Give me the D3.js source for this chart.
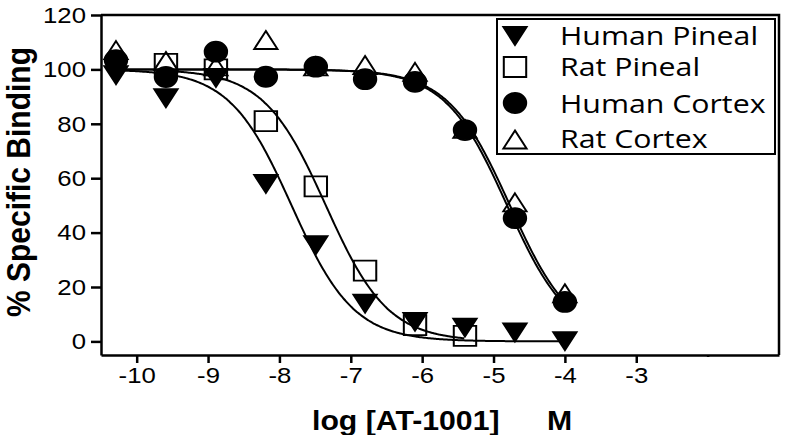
<!DOCTYPE html>
<html>
<head>
<meta charset="utf-8">
<script src="https://cdn.jsdelivr.net/npm/d3@7"></script>
<style>
    body { margin: 0; background: #fff; }
</style>
</head>
<body>
<svg id="chart" width="809" height="435"></svg>
<script>
// log molar concentration of AT-1001 (5-fold dilutions)
const logConc = [-10.29, -9.59, -8.89, -8.19, -7.49, -6.80, -6.10, -5.40, -4.70, -4.00];

const seriesNames = ["Human Pineal", "Rat Pineal", "Human Cortex", "Rat Cortex"];
const humanPineal = [99, 90.5, 98, 59, 36.5, 15, 8.3, 6.2, 4.4, 1.2];
const ratPineal = [null, 102, 100, 81, 57, 26, 6, 2, null, null];
const humanCortex = [103.4, 97.2, 106.5, 97.3, 101, 96.4, 95.4, 77.7, 45.3, 14.5];
const ratCortex = [106, 102, 100, 109.7, 100, 100.5, 98, 77, 50, 16.6];

// one-site fit parameters
const fitTop = [100, 100, 100, 100];
const fitBottom = [0, 0, 0, 0];
const fitLogIC50 = [-7.83, -7.35, -4.81, -4.77];

const xTicks = [-10, -9, -8, -7, -6, -5, -4, -3, -2];
const xTickLabels = ["-10", "-9", "-8", "-7", "-6", "-5", "-4", "-3", ""];
const yTicks = [0, 20, 40, 60, 80, 100, 120];

const chart = {
    svg: d3.select("#chart"),

    // the original figure is stretched sideways
    stretch: 1.12,

    box: {
        left: 101,
        right: 779,
        top: 15,
        bottom: 355
    },

    scales: {
        x: null,
        y: null
    },

    setScales() {
        this.scales.x = d3.scaleLinear([-10.5, -1], [this.box.left, this.box.right]);
        this.scales.y = d3.scaleLinear([-5, 120], [this.box.bottom, this.box.top]);
    },

    axes() {
        const s = this.stretch;

        const yAxis = d3.axisLeft(this.scales.y)
            .tickValues(yTicks)
            .tickSize(10)
            .tickSizeOuter(0)
            .tickPadding(5);

        const gy = this.svg.append("g")
            .attr("transform", `translate(${this.box.left}, 0)`)
            .call(yAxis);

        gy.selectAll("text")
            .attr("transform", `scale(${s}, 1)`)
            .attr("x", -15 / s)
            .style("font", "23px 'Liberation Sans', Arial, sans-serif")
            .attr("fill", "#000");

        const xAxis = d3.axisBottom(this.scales.x)
            .tickValues(xTicks)
            .tickFormat((d, i) => xTickLabels[i])
            .tickSize(8)
            .tickSizeOuter(0)
            .tickPadding(4);

        const gx = this.svg.append("g")
            .attr("transform", `translate(0, ${this.box.bottom})`)
            .call(xAxis);

        gx.selectAll("text")
            .attr("transform", `scale(${s}, 1)`)
            .style("font", "23px 'Liberation Sans', Arial, sans-serif")
            .attr("fill", "#000");

        // the -2 tick is only a stub
        gx.selectAll(".tick line").filter(d => d === -2).attr("y2", 2);

        [gx, gy].forEach(g => {
            g.selectAll("line, path")
                .attr("stroke", "#000")
                .attr("stroke-width", 2.5);
        });

        // frame top and right
        this.svg.append("path")
            .attr("d", `M${this.box.left},${this.box.top}H${this.box.right}V${this.box.bottom}`)
            .attr("fill", "none")
            .attr("stroke", "#000")
            .attr("stroke-width", 2.5);
    },

    titles() {
        const s = this.stretch;

        const xt = this.svg.append("text")
            .attr("transform", `translate(312, 430) scale(${s}, 1)`)
            .style("font", "bold 27px 'Liberation Sans', Arial, sans-serif")
            .attr("fill", "#000");
        xt.append("tspan").text("log [AT-1001]");
        xt.append("tspan").attr("x", (547 - 312) / s).text("M");

        this.svg.append("text")
            .attr("transform", `translate(30, 182) scale(${s}, 1) rotate(-90)`)
            .attr("text-anchor", "middle")
            .style("font", "bold 30px 'Liberation Sans', Arial, sans-serif")
            .attr("fill", "#000")
            .text("% Specific Binding");
    },

    curves() {
        const x = this.scales.x;
        const y = this.scales.y;
        const series = [humanPineal, ratPineal, humanCortex, ratCortex];

        const line = d3.line()
            .x(d => x(d[0]))
            .y(d => y(d[1]))
            .curve(d3.curveBasis);

        series.forEach((values, i) => {
            const xs = logConc.filter((c, j) => values[j] !== null);
            const start = d3.min(xs);
            const end = d3.max(xs);
            let pts = [];
            for (let c = start; c <= end + 1e-9; c += 0.02) {
                const v = fitBottom[i] + (fitTop[i] - fitBottom[i]) / (1 + Math.pow(10, c - fitLogIC50[i]));
                pts.push([c, v]);
            }

            this.svg.append("path")
                .attr("d", line(pts))
                .attr("fill", "none")
                .attr("stroke", "#000")
                .attr("stroke-width", 2);
        });
    },

    symbols: [
        { type: d3.symbolTriangle, size: 187, rotate: 180, fill: "#000" },
        { type: d3.symbolSquare, size: 400, rotate: 0, fill: "none" },
        { type: d3.symbolCircle, size: 314, rotate: 0, fill: "#000" },
        { type: d3.symbolTriangle, size: 187, rotate: 0, fill: "none" }
    ],

    marker(g, i, cx, cy) {
        const sym = this.symbols[i];
        g.append("path")
            .attr("d", d3.symbol().type(sym.type).size(sym.size)())
            .attr("transform", `translate(${cx}, ${cy}) scale(${this.stretch}, 1) rotate(${sym.rotate})`)
            .attr("fill", sym.fill)
            .attr("stroke", "#000")
            .attr("stroke-width", 1.8);
    },

    markers() {
        const x = this.scales.x;
        const y = this.scales.y;
        const series = [humanPineal, ratPineal, humanCortex, ratCortex];
        const g = this.svg.append("g");

        // drawing order: squares, open triangles, filled triangles, circles
        [1, 3, 0, 2].forEach(i => {
            series[i].forEach((v, j) => {
                if (v === null) return;
                this.marker(g, i, x(logConc[j]), y(v));
            });
        });
    },

    legend() {
        const g = this.svg.append("g");
        const markerY = [33, 67, 103, 142.5];
        const textY = [45, 76, 113, 148];

        g.append("rect")
            .attr("x", 497)
            .attr("y", 19)
            .attr("width", 278)
            .attr("height", 135)
            .attr("fill", "#fff")
            .attr("stroke", "#000")
            .attr("stroke-width", 2);

        seriesNames.forEach((name, i) => {
            this.marker(g, i, 515, markerY[i]);
            g.append("text")
                .attr("transform", `translate(560, ${textY[i]}) scale(${this.stretch * 1.04}, 1)`)
                .style("font", "26px 'Open Sans', sans-serif")
                .attr("fill", "#000")
                .text(name);
        });
    },

    driver() {
        this.setScales();
        this.axes();
        this.titles();
        this.curves();
        this.markers();
        this.legend();
    }
};

chart.driver();
</script>
</body>
</html>
